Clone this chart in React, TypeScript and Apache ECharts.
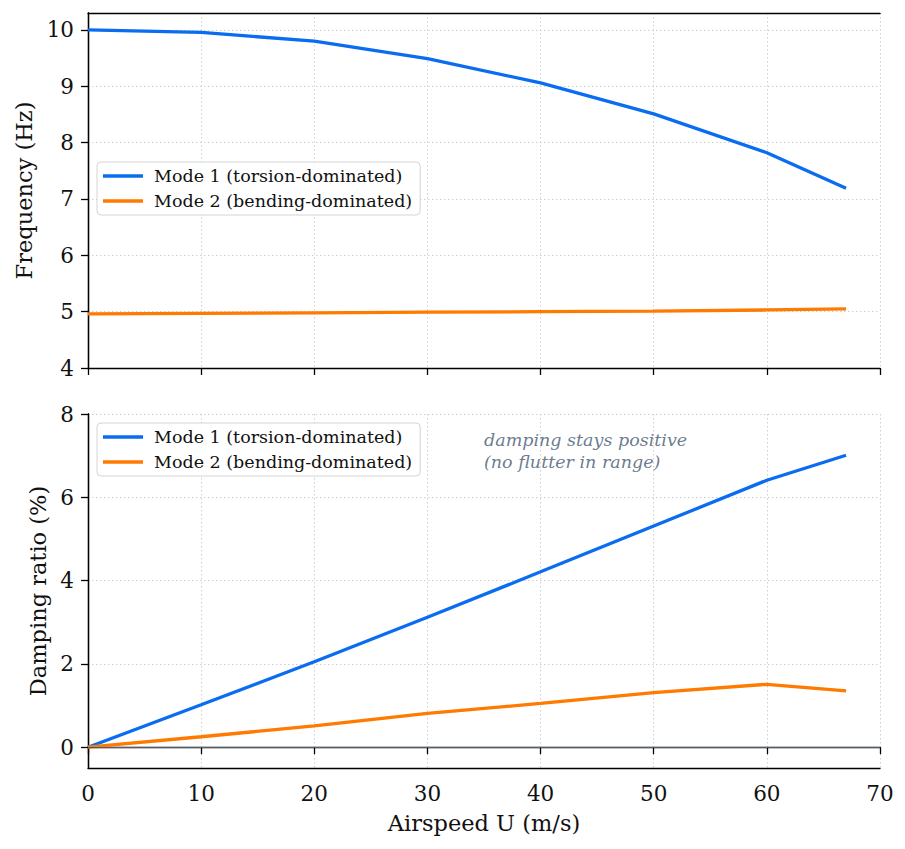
import React, { useEffect, useRef } from "react";
import * as echarts from "echarts";

const airspeed = [0, 10, 20, 30, 40, 50, 60, 67];
const freqMode1 = [10.0, 9.955, 9.8, 9.49, 9.06, 8.51, 7.82, 7.19];
const freqMode2 = [4.96, 4.97, 4.98, 4.99, 5.0, 5.01, 5.03, 5.05];
const dampMode1 = [0.0, 1.02, 2.05, 3.12, 4.21, 5.31, 6.41, 7.01];
const dampMode2 = [0.0, 0.25, 0.51, 0.81, 1.05, 1.31, 1.51, 1.35];
const xTicks = [0, 10, 20, 30, 40, 50, 60, 70];
const freqTicks = [4, 5, 6, 7, 8, 9, 10];
const dampTicks = [0, 2, 4, 6, 8];
const seriesNames = ["Mode 1 (torsion-dominated)", "Mode 2 (bending-dominated)"];
const noteText = "damping stays positive\n(no flutter in range)";
const notePos = [35, 7.65];

const FONT = "DejaVu Serif";
const BLUE = "#0a6cf0";
const ORANGE = "#ff7a00";

const pairs = (xs: number[], ys: number[]) => xs.map((x, i) => [x, ys[i]]);

export default function App() {
  const ref = useRef<HTMLDivElement>(null);
  useEffect(() => {
    if (!ref.current) return;
    const chart = echarts.init(ref.current, undefined, { renderer: "svg" });
    const gridLine = { show: true, lineStyle: { color: "#cfcfcf", type: [1.5, 2.5] as any, width: 1 } };
    const axisLine = { show: true, lineStyle: { color: "#000", width: 1.3 } };
    const tick = { show: true, inside: false, length: 7, lineStyle: { color: "#000", width: 1.3 } };
    const lbl = { fontFamily: FONT, fontSize: 21.5, color: "#111" };
    const nameStyle = { fontFamily: FONT, fontSize: 22.5, color: "#111" };
    const legendBase = {
      orient: "vertical",
      left: 97,
      icon: "rect",
      itemWidth: 40,
      itemHeight: 3.5,
      itemGap: 7,
      padding: [5, 8, 5, 6],
      backgroundColor: "rgba(255,255,255,0.85)",
      borderColor: "#d4d4d4",
      borderWidth: 1,
      borderRadius: 4,
      textStyle: { fontFamily: FONT, fontSize: 17.5, color: "#111", padding: [0, 0, 0, 6] },
      data: seriesNames,
    };
    const frameAxis = (gridIndex: number, position: string) => ({
      type: "value",
      gridIndex,
      position,
      min: 0,
      max: 1,
      axisLine,
      axisTick: { show: false },
      axisLabel: { show: false },
      splitLine: { show: false },
    });
    const lineSeries = (name: string, color: string, data: number[][], idx: number) => ({
      name,
      type: "line",
      xAxisIndex: idx,
      yAxisIndex: idx,
      data,
      showSymbol: false,
      symbol: "none",
      lineStyle: { color, width: 3.3 },
      itemStyle: { color },
      z: 3,
    });
    chart.setOption({
      animation: false,
      backgroundColor: "#fff",
      grid: [
        { left: 88, top: 13, right: 25, height: 355 },
        { left: 88, top: 414, right: 25, height: 354 },
      ],
      legend: [
        { ...legendBase, top: 162 },
        { ...legendBase, top: 423 },
      ],
      xAxis: [
        {
          type: "value", gridIndex: 0, min: 0, max: 70, interval: 10,
          axisLine, axisTick: tick, splitLine: gridLine,
          axisLabel: { show: false },
        },
        {
          type: "value", gridIndex: 1, min: 0, max: 70, interval: 10,
          axisLine, axisTick: tick, splitLine: gridLine,
          axisLabel: { ...lbl, margin: 14, customValues: xTicks },
          name: "Airspeed U (m/s)", nameLocation: "middle", nameGap: 43,
          nameTextStyle: nameStyle,
        },
        frameAxis(0, "top"),
        frameAxis(1, "top"),
      ],
      yAxis: [
        {
          type: "value", gridIndex: 0, min: 4, max: 10.3, interval: 1,
          axisLine, axisTick: { ...tick, customValues: freqTicks }, splitLine: gridLine,
          axisLabel: { ...lbl, margin: 14, customValues: freqTicks },
          name: "Frequency (Hz)", nameLocation: "middle", nameGap: 52,
          nameTextStyle: nameStyle,
        },
        {
          type: "value", gridIndex: 1, min: -0.5, max: 8,
          axisLine, axisTick: { ...tick, customValues: dampTicks }, splitLine: gridLine,
          axisLabel: { ...lbl, margin: 14, customValues: dampTicks },
          name: "Damping ratio (%)", nameLocation: "middle", nameGap: 37,
          nameTextStyle: nameStyle,
        },
        frameAxis(0, "right"),
        frameAxis(1, "right"),
      ],
      series: [
        lineSeries(seriesNames[0], BLUE, pairs(airspeed, freqMode1), 0),
        lineSeries(seriesNames[1], ORANGE, pairs(airspeed, freqMode2), 0),
        {
          ...lineSeries(seriesNames[0], BLUE, pairs(airspeed, dampMode1), 1),
          markLine: {
            silent: true,
            symbol: "none",
            label: { show: false },
            lineStyle: { color: "#4f5d6c", width: 1.2, type: "solid" },
            data: [{ yAxis: 0 }],
          },
        },
        lineSeries(seriesNames[1], ORANGE, pairs(airspeed, dampMode2), 1),
        {
          type: "scatter",
          xAxisIndex: 1,
          yAxisIndex: 1,
          symbolSize: 0,
          silent: true,
          data: [notePos],
          label: {
            show: true,
            position: [0, 0],
            align: "left",
            verticalAlign: "top",
            formatter: noteText,
            fontFamily: FONT,
            fontStyle: "italic",
            fontSize: 17.5,
            lineHeight: 22,
            color: "#44586f",
          },
        },
      ],
    });
    return () => chart.dispose();
  }, []);
  return (
    <div
      ref={ref}
      style={{ position: "fixed", left: 0, top: 0, width: 905, height: 849, background: "#fff" }}
    />
  );
}
